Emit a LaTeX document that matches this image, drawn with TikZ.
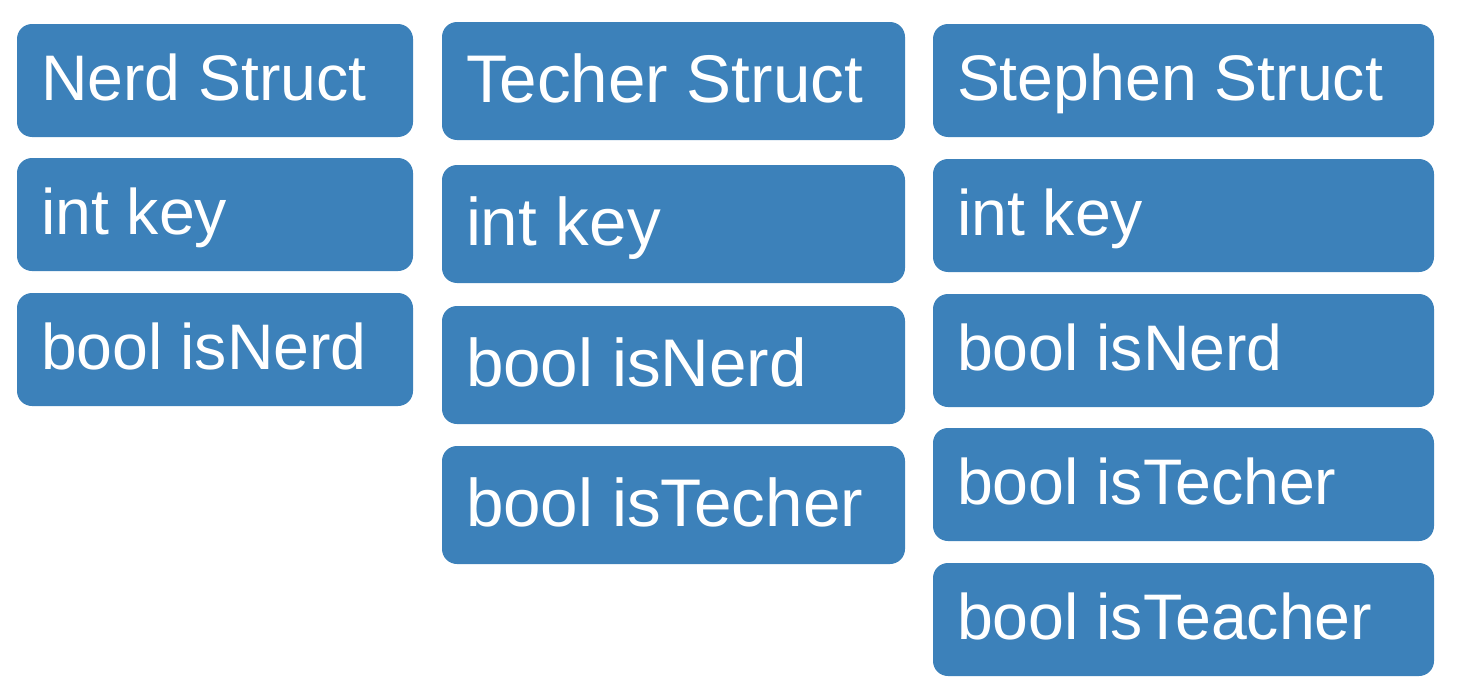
\documentclass[tikz,border=0pt]{standalone}
\usepackage{fontspec}
\setmainfont{Liberation Sans}
\usepackage{xcolor}
\usetikzlibrary{positioning}
\definecolor{structblue}{RGB}{60,129,186}
\newlength{\fieldwd}
\newcommand{\ftext}[1]{\makebox[\fieldwd][l]{#1}}
\tikzset{
  field/.style={rectangle, rounded corners=7.5pt, fill=structblue, text=white,
    font=\fontsize{32.2}{32.2}\selectfont, inner xsep=12pt, inner ysep=0pt, outer sep=0pt,
    text height=22pt, text depth=2.5pt, minimum height=56.5pt, anchor=north west},
  nerdfield/.style={field, execute at begin node={\setlength{\fieldwd}{174pt}}},
  techfield/.style={field, minimum height=59pt, text height=23pt, text depth=1.5pt,
    font=\fontsize{33.7}{33.7}\selectfont,
    execute at begin node={\setlength{\fieldwd}{207.5pt}}},
  stephfield/.style={field, execute at begin node={\setlength{\fieldwd}{226.5pt}}}
}

\begin{document}
\begin{tikzpicture}[node distance=11pt]
\useasboundingbox (0,0) rectangle (729pt,-348pt);
% Nerd Struct
\node[nerdfield] (nerd) at (8.5pt,-12pt) {\ftext{Nerd Struct}};
\node[nerdfield, below=10.5pt of nerd.south west, anchor=north west] (nerdkey) {\ftext{int key}};
\node[nerdfield, below=11pt of nerdkey.south west, anchor=north west] (nerdisnerd) {\ftext{bool isNerd}};
% Techer Struct
\node[techfield] (tech) at (221pt,-11pt) {\ftext{Techer Struct}};
\node[techfield, below=12.5pt of tech.south west, anchor=north west] (techkey) {\ftext{int key}};
\node[techfield, below=11.5pt of techkey.south west, anchor=north west] (techisnerd) {\ftext{bool isNerd}};
\node[techfield, below=11pt of techisnerd.south west, anchor=north west] (techistecher) {\ftext{bool isTecher}};
% Stephen Struct
\node[stephfield] (steph) at (466.5pt,-12pt) {\ftext{Stephen Struct}};
\node[stephfield, below=11pt of steph.south west, anchor=north west] (stephkey) {\ftext{int key}};
\node[stephfield, below=11pt of stephkey.south west, anchor=north west] (stephisnerd) {\ftext{bool isNerd}};
\node[stephfield, below=10.5pt of stephisnerd.south west, anchor=north west] (stephistecher) {\ftext{bool isTecher}};
\node[stephfield, below=11pt of stephistecher.south west, anchor=north west] (stephisteacher) {\ftext{bool isTeacher}};
\end{tikzpicture}
\end{document}
